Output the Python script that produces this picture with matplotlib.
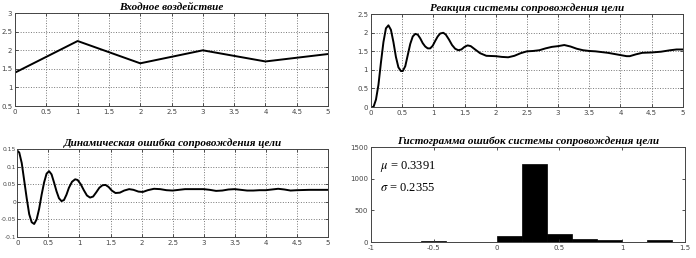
import matplotlib
matplotlib.use("Agg")
import matplotlib.pyplot as plt

# ---- data ----
input_t = [0, 1, 2, 3, 4, 5]
input_y = [1.4, 2.25, 1.65, 2.0, 1.7, 1.9]

resp_t = [0, 0.04, 0.08, 0.12, 0.16, 0.20, 0.24, 0.28, 0.32, 0.36, 0.40, 0.44, 0.48, 0.51,
          0.55, 0.59, 0.63, 0.67, 0.71, 0.75, 0.79, 0.83, 0.87, 0.91, 0.95, 0.99, 1.03, 1.07,
          1.11, 1.16, 1.20, 1.25, 1.30, 1.35, 1.40, 1.45, 1.50, 1.55, 1.60, 1.67, 1.75, 1.85,
          2.0, 2.1, 2.2, 2.3, 2.4, 2.5, 2.6, 2.7, 2.8, 2.9, 3.0, 3.1, 3.2, 3.3, 3.4, 3.5, 3.6,
          3.7, 3.8, 3.9, 4.0, 4.1, 4.15, 4.25, 4.35, 4.5, 4.65, 4.8, 4.9, 5.0]
resp_y = [0, 0.0, 0.2, 0.6, 1.2, 1.75, 2.12, 2.2, 2.08, 1.75, 1.35, 1.07, 0.97, 0.97,
          1.1, 1.4, 1.7, 1.9, 1.97, 1.95, 1.85, 1.72, 1.63, 1.58, 1.58, 1.65, 1.78, 1.9,
          1.98, 2.0, 1.95, 1.82, 1.67, 1.57, 1.53, 1.55, 1.62, 1.66, 1.64, 1.55, 1.45, 1.38,
          1.37, 1.35, 1.34, 1.38, 1.45, 1.5, 1.51, 1.53, 1.58, 1.62, 1.64, 1.67, 1.63, 1.57,
          1.53, 1.51, 1.5, 1.48, 1.46, 1.43, 1.4, 1.37, 1.37, 1.42, 1.46, 1.47, 1.49, 1.53,
          1.55, 1.55]

err_t = [0, 0.03, 0.07, 0.11, 0.15, 0.19, 0.23, 0.27, 0.31, 0.35, 0.39, 0.43, 0.47, 0.51,
         0.55, 0.59, 0.63, 0.67, 0.71, 0.75, 0.79, 0.83, 0.88, 0.93, 0.97, 1.02, 1.07, 1.12,
         1.17, 1.22, 1.27, 1.32, 1.37, 1.42, 1.47, 1.52, 1.58, 1.65, 1.72, 1.8, 1.87, 1.95,
         2.02, 2.1, 2.2, 2.3, 2.4, 2.5, 2.6, 2.7, 2.8, 2.9, 3.0, 3.1, 3.2, 3.3, 3.4, 3.5, 3.6,
         3.7, 3.8, 3.9, 4.0, 4.1, 4.2, 4.3, 4.4, 4.5, 4.7, 5.0]
err_y = [0.145, 0.14, 0.11, 0.06, 0.01, -0.035, -0.058, -0.063, -0.05, -0.02, 0.02, 0.055,
         0.08, 0.087, 0.078, 0.055, 0.03, 0.01, 0.002, 0.005, 0.02, 0.04, 0.057, 0.064, 0.062,
         0.05, 0.033, 0.018, 0.012, 0.015, 0.027, 0.04, 0.047, 0.048, 0.042, 0.032, 0.025,
         0.026, 0.032, 0.036, 0.034, 0.029, 0.028, 0.033, 0.037, 0.036, 0.033, 0.032, 0.034,
         0.036, 0.036, 0.036, 0.036, 0.034, 0.031, 0.032, 0.035, 0.036, 0.034, 0.032, 0.032,
         0.033, 0.033, 0.035, 0.037, 0.035, 0.032, 0.033, 0.034, 0.034]

hist_edges = [-0.6, -0.4, -0.2, 0.0, 0.2, 0.4, 0.6, 0.8, 1.0, 1.2, 1.4]
hist_counts = [12, 3, 3, 90, 1230, 120, 40, 25, 5, 28]

mu_text = r"$\mu$ = 0.3391"
sigma_text = r"$\sigma$ = 0.2355"

titles = ["Входное воздействие",
          "Реакция системы сопровождения цели",
          "Динамическая ошибка сопровождения цели",
          "Гистограмма ошибок системы сопровождения цели"]

# ---- figure ----
plt.rcParams['font.family'] = ['DejaVu Sans']
plt.rcParams['mathtext.fontset'] = 'stix'
fig = plt.figure(figsize=(6.96, 2.58), dpi=100)

title_kw = dict(fontsize=8, fontweight='bold', fontstyle='italic',
                family=['Liberation Serif', 'DejaVu Serif'], pad=2)


def style(ax, grid=True, labelsize=5, pad=2):
    ax.tick_params(direction='in', labelsize=labelsize, length=2.5, width=0.6,
                   top=True, right=True, pad=pad, colors='#333333', labelcolor='#444444')
    for s in ax.spines.values():
        s.set_linewidth(0.7)
        s.set_color('#444444')
    if grid:
        ax.grid(True, linestyle=':', linewidth=0.7, color='#777777')


ax1 = fig.add_axes([0.0216, 0.589, 0.4497, 0.360])
ax1.plot(input_t, input_y, color='black', lw=1.4)
ax1.set_xlim(0, 5)
ax1.set_ylim(0.5, 3)
ax1.set_xticks([0, 0.5, 1, 1.5, 2, 2.5, 3, 3.5, 4, 4.5, 5])
ax1.set_xticklabels(['0', '0.5', '1', '1.5', '2', '2.5', '3', '3.5', '4', '4.5', '5'])
ax1.set_yticks([0.5, 1, 1.5, 2, 2.5, 3])
ax1.set_yticklabels(['0.5', '1', '1.5', '2', '2.5', '3'])
ax1.set_title(titles[0], **title_kw)
style(ax1)

ax2 = fig.add_axes([0.533, 0.585, 0.448, 0.360])
ax2.plot(resp_t, resp_y, color='black', lw=1.4)
ax2.set_xlim(0, 5)
ax2.set_ylim(0, 2.5)
ax2.set_xticks([0, 0.5, 1, 1.5, 2, 2.5, 3, 3.5, 4, 4.5, 5])
ax2.set_xticklabels(['0', '0.5', '1', '1.5', '2', '2.5', '3', '3.5', '4', '4.5', '5'])
ax2.set_yticks([0, 0.5, 1, 1.5, 2, 2.5])
ax2.set_yticklabels(['0', '0.5', '1', '1.5', '2', '2.5'])
ax2.set_title(titles[1], **title_kw)
style(ax2)

ax3 = fig.add_axes([0.025, 0.0814, 0.446, 0.341])
ax3.plot(err_t, err_y, color='black', lw=1.4)
ax3.set_xlim(0, 5)
ax3.set_ylim(-0.1, 0.15)
ax3.set_xticks([0, 0.5, 1, 1.5, 2, 2.5, 3, 3.5, 4, 4.5, 5])
ax3.set_xticklabels(['0', '0.5', '1', '1.5', '2', '2.5', '3', '3.5', '4', '4.5', '5'])
ax3.set_yticks([-0.1, -0.05, 0, 0.05, 0.1, 0.15])
ax3.set_yticklabels(['-0.1', '-0.05', '0', '0.05', '0.1', '0.15'])
ax3.set_title(titles[2], **title_kw)
style(ax3)
ax3.tick_params(axis='y', labelsize=4.3, pad=1)

ax4 = fig.add_axes([0.533, 0.062, 0.451, 0.368])
widths = [hist_edges[i + 1] - hist_edges[i] for i in range(len(hist_counts))]
ax4.bar(hist_edges[:-1], hist_counts, width=widths, align='edge',
        color='black', edgecolor='black', linewidth=0.5)
ax4.set_xlim(-1, 1.5)
ax4.set_ylim(0, 1500)
ax4.set_xticks([-1, -0.5, 0, 0.5, 1, 1.5])
ax4.set_xticklabels(['-1', '-0.5', '0', '0.5', '1', '1.5'])
ax4.set_yticks([0, 500, 1000, 1500])
ax4.set_yticklabels(['0', '500', '1000', '1500'])
ax4.set_title(titles[3], **title_kw)
style(ax4, grid=False)
ax4.text(0.03, 0.80, mu_text, transform=ax4.transAxes, fontsize=9,
         family=['Liberation Serif'], va='center')
ax4.text(0.03, 0.57, sigma_text, transform=ax4.transAxes, fontsize=9,
         family=['Liberation Serif'], va='center')

fig.savefig("out.png", dpi=100)
